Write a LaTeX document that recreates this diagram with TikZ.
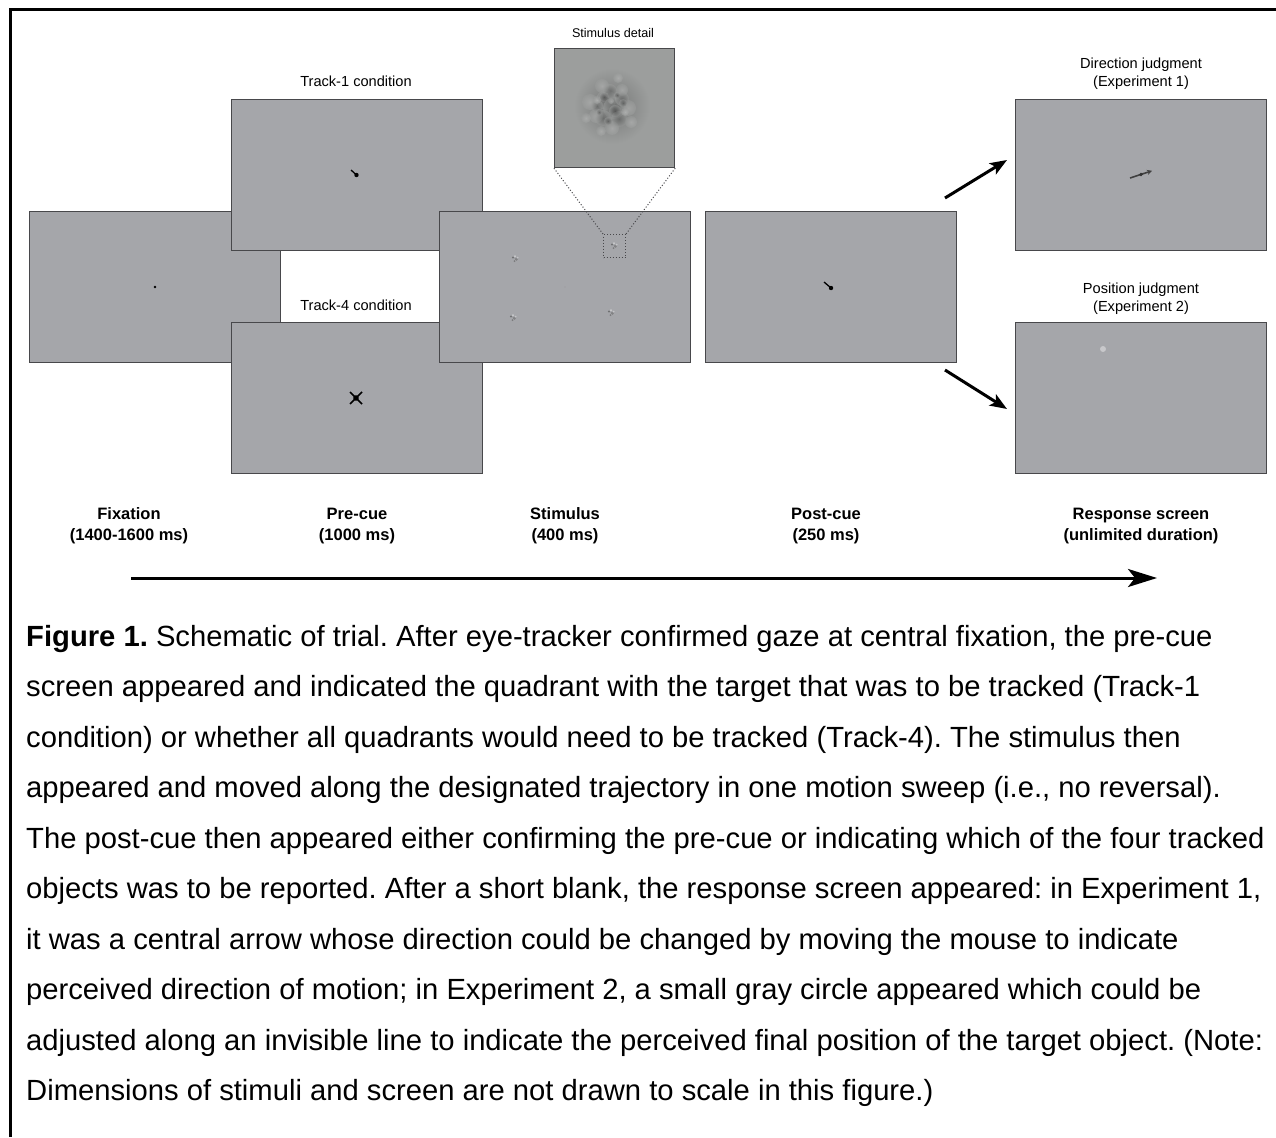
\documentclass[tikz,border=0pt]{standalone}
\usepackage{fontspec}
\setmainfont{Liberation Sans}
\usetikzlibrary{arrows.meta}
\definecolor{scr}{RGB}{165,166,170}
\definecolor{scredge}{RGB}{72,72,75}
\definecolor{detail}{RGB}{156,158,157}
\definecolor{lightdot}{RGB}{200,200,203}
\begin{document}
\frenchspacing
\begin{tikzpicture}[x=1pt,y=-1pt,
  screen/.style={draw=scredge, line width=1.2pt, fill=scr, rectangle, inner sep=0pt,
    minimum width=251pt, minimum height=151pt, anchor=north west},
  small/.style={font=\fontsize{14.6}{18}\selectfont, inner sep=0pt, anchor=base, align=center},
  tiny/.style={font=\fontsize{12.6}{15}\selectfont, inner sep=0pt, anchor=base},
  phase/.style={font=\fontsize{16.5}{21}\selectfont\bfseries, inner sep=0pt, anchor=base, align=center},
  captext/.style={font=\fontsize{29.2}{35}\selectfont, inner sep=0pt, anchor=base west},
  bigarrow/.style={line width=3pt, -{Stealth[length=29pt,width=18pt,inset=7pt]}},
  sidearrow/.style={line width=3pt, -{Stealth[length=17pt,width=13pt,inset=4pt]}},
  cue/.style={line width=1.3pt, black},
  blob/.pic={
    \fill[black!70, opacity=.6] (-2,-1.5) circle (1.2);
    \fill[black!60, opacity=.55] (1.5,0.5) circle (1.3);
    \fill[white, opacity=.4] (0,-2.8) circle (1.1);
    \fill[black!65, opacity=.55] (-0.5,2.2) circle (1);
    \fill[white, opacity=.35] (2.8,-1.5) circle (0.9);
    \fill[black!60, opacity=.45] (0.3,-0.3) circle (0.8);
  }]
\useasboundingbox (0,0) rectangle (1276,1137);
\fill[white] (0,0) rectangle (1276,1137);
% frame (left and top edges)
\draw[line width=3pt] (10,1137) -- (10,10) -- (1276,10);

% screens
\node[screen] (fix) at (29,211) {};
\node[screen] (t1) at (231,99) {};
\node[screen] (t4) at (231,322) {};
\node[screen] (stim) at (439,211) {};
\node[screen] (post) at (705,211) {};
\node[screen] (dir) at (1015,99) {};
\node[screen] (pos) at (1015,322) {};
\node[draw=scredge, line width=1.2pt, fill=detail, rectangle, inner sep=0pt,
  minimum width=120pt, minimum height=119pt, anchor=north west] (detail) at (554,48) {};

% fixation dot
\fill (155,287) circle (1.3);
% track-1 cue
\draw[cue] (351,170) -- (356.5,175);
\fill (356.5,175) circle (2.2);
% track-4 cue
\draw[line width=1.7pt] (350,392) -- (362,404);
\draw[line width=1.7pt] (350,404) -- (362,392);
\fill (356,398) circle (2.8);
% stimulus screen
\fill[black!40] (565,287) circle (0.7);
\pic at (515,259) {blob};
\pic at (513,318) {blob};
\pic at (611,313) {blob};
\pic at (614,246) {blob};
\node[draw=scredge, dotted, line width=1pt, rectangle, inner sep=0pt,
  minimum width=22pt, minimum height=23pt, anchor=north west] (zbox) at (603,234) {};
\draw[scredge, dotted, line width=1pt] (detail.south west) -- (zbox.north west);
\draw[scredge, dotted, line width=1pt] (detail.south east) -- (zbox.north east);
% stimulus detail texture
\begin{scope}
\clip (detail.north west) rectangle (detail.south east);
\shade[inner color=black!25!detail, outer color=detail] (612,106) circle (38);
\foreach \px/\py/\r in {590/102/8, 596/116/7, 628/108/8, 602/86/7, 622/90/6, 612/128/7, 631/122/6, 586/118/5, 618/78/5, 601/131/5}
  \shade[inner color=white!40!detail, outer color=detail, opacity=.45] (\px,\py) circle (\r);
\foreach \px/\py/\r in {606/100/10, 614/108/11, 622/99/7, 603/118/8, 619/119/8, 610/91/7, 597/106/6}
  \shade[inner color=black!45!detail, outer color=detail, opacity=.5] (\px,\py) circle (\r);
\foreach \px/\py/\r in {604/97/5, 615/111/6, 608/121/4, 623/103/4, 599/112/3, 617/95/3}
  \shade[inner color=black!65!detail, outer color=detail, opacity=.45] (\px,\py) circle (\r);
\foreach \px/\py/\r in {625/112/4, 597/100/4, 611/101/3}
  \shade[inner color=white!45!detail, outer color=detail, opacity=.45] (\px,\py) circle (\r);
\end{scope}
% post-cue
\draw[cue] (824,282) -- (831,288);
\fill (831,288) circle (2.2);
% direction judgment arrow
\draw[line width=1.6pt, black!75, -{Stealth[length=5pt,width=5pt]}] (1130,178) -- (1152,170.8);
\fill[black!80] (1141,174.5) circle (1.8);
% position judgment dot
\fill[lightdot] (1103,349) circle (3);

% screen labels
\node[tiny] (ldet) at (613,38) {Stimulus detail};
\node[small] (lt1) at (356,87) {Track-1 condition};
\node[small] (lt4) at (356,310.7) {Track-4 condition};
\node[small] (ldir) at (1141,87) {Direction judgment\\(Experiment 1)};
\node[small] (lpos) at (1141,311) {Position judgment\\(Experiment 2)};

% arrows to the response screens
\coordinate (a1s) at (945,198);
\coordinate (a1e) at (1007,160);
\coordinate (a2s) at (945,370);
\coordinate (a2e) at (1007,409);
\draw[sidearrow] (a1s) -- (a1e);
\draw[sidearrow] (a2s) -- (a2e);

% phase labels
\node[phase] (pfix) at (129,540) {Fixation\\(1400-1600 ms)};
\node[phase] (ppre) at (357,540) {Pre-cue\\(1000 ms)};
\node[phase] (pstim) at (565,540) {Stimulus\\(400 ms)};
\node[phase] (ppost) at (826,540) {Post-cue\\(250 ms)};
\node[phase] (presp) at (1141,540) {Response screen\\(unlimited duration)};

% timeline
\coordinate (tl0) at (131,578);
\coordinate (tl1) at (1157,578);
\draw[bigarrow] (tl0) -- (tl1);

% caption
\node[captext] (c1) at (26,646) {\textbf{Figure 1.} Schematic of trial. After eye-tracker confirmed gaze at central fixation, the pre-cue};
\node[captext] (c2) at (26,696.5) {screen appeared and indicated the quadrant with the target that was to be tracked (Track-1};
\node[captext] (c3) at (26,747) {condition) or whether all quadrants would need to be tracked (Track-4). The stimulus then};
\node[captext] (c4) at (26,797.5) {appeared and moved along the designated trajectory in one motion sweep (i.e., no reversal).};
\node[captext] (c5) at (26,848) {The post-cue then appeared either confirming the pre-cue or indicating which of the four tracked};
\node[captext] (c6) at (26,898.5) {objects was to be reported. After a short blank, the response screen appeared: in Experiment 1,};
\node[captext] (c7) at (26,949) {it was a central arrow whose direction could be changed by moving the mouse to indicate};
\node[captext] (c8) at (26,999.5) {perceived direction of motion; in Experiment 2, a small gray circle appeared which could be};
\node[captext] (c9) at (26,1050) {adjusted along an invisible line to indicate the perceived final position of the target object. (Note:};
\node[captext] (c10) at (26,1100.5) {Dimensions of stimuli and screen are not drawn to scale in this figure.)};
\end{tikzpicture}
\end{document}
